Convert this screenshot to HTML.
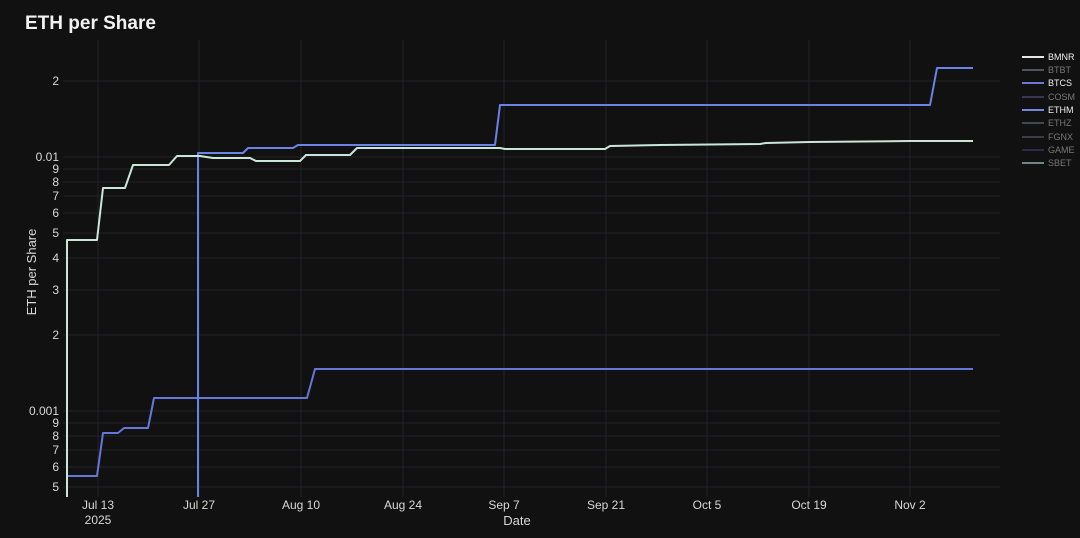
<!DOCTYPE html>
<html><head><style>
body{margin:0;background:#111112;}
svg{display:block;font-family:"Liberation Sans",sans-serif;}
</style></head><body>
<svg width="1080" height="538" viewBox="0 0 1080 538">
<rect width="1080" height="538" fill="#111112"/>
<text x="25" y="29" fill="#f2f2f2" font-size="19" font-weight="bold">ETH per Share</text>
<g stroke="#242426" stroke-width="1">
<line x1="63" x2="1000" y1="81" y2="81"/>
<line x1="63" x2="1000" y1="157" y2="157"/>
<line x1="63" x2="1000" y1="169" y2="169"/>
<line x1="63" x2="1000" y1="182" y2="182"/>
<line x1="63" x2="1000" y1="196" y2="196"/>
<line x1="63" x2="1000" y1="213" y2="213"/>
<line x1="63" x2="1000" y1="233" y2="233"/>
<line x1="63" x2="1000" y1="258" y2="258"/>
<line x1="63" x2="1000" y1="290" y2="290"/>
<line x1="63" x2="1000" y1="335" y2="335"/>
<line x1="63" x2="1000" y1="411" y2="411"/>
<line x1="63" x2="1000" y1="423" y2="423"/>
<line x1="63" x2="1000" y1="436" y2="436"/>
<line x1="63" x2="1000" y1="450" y2="450"/>
<line x1="63" x2="1000" y1="467" y2="467"/>
<line x1="63" x2="1000" y1="487" y2="487"/>
<line y1="40" y2="497" x1="98" x2="98"/>
<line y1="40" y2="497" x1="199" x2="199"/>
<line y1="40" y2="497" x1="301" x2="301"/>
<line y1="40" y2="497" x1="403" x2="403"/>
<line y1="40" y2="497" x1="504" x2="504"/>
<line y1="40" y2="497" x1="606" x2="606"/>
<line y1="40" y2="497" x1="707" x2="707"/>
<line y1="40" y2="497" x1="809" x2="809"/>
<line y1="40" y2="497" x1="910" x2="910"/>
</g>
<g fill="#d8d8d8" font-size="12" text-anchor="end">
<text x="59" y="85">2</text>
<text x="59" y="161">0.01</text>
<text x="59" y="173">9</text>
<text x="59" y="186">8</text>
<text x="59" y="200">7</text>
<text x="59" y="217">6</text>
<text x="59" y="237">5</text>
<text x="59" y="262">4</text>
<text x="59" y="294">3</text>
<text x="59" y="339">2</text>
<text x="59" y="415">0.001</text>
<text x="59" y="427">9</text>
<text x="59" y="440">8</text>
<text x="59" y="454">7</text>
<text x="59" y="471">6</text>
<text x="59" y="491">5</text>
</g>
<g fill="#d8d8d8" font-size="12" text-anchor="middle">
<text x="98" y="509">Jul 13</text>
<text x="98" y="524">2025</text>
<text x="199" y="509">Jul 27</text>
<text x="301" y="509">Aug 10</text>
<text x="403" y="509">Aug 24</text>
<text x="504" y="509">Sep 7</text>
<text x="606" y="509">Sep 21</text>
<text x="707" y="509">Oct 5</text>
<text x="809" y="509">Oct 19</text>
<text x="910" y="509">Nov 2</text>
<text x="517" y="525" font-size="13">Date</text>
<text transform="translate(36,272) rotate(-90)" font-size="13">ETH per Share</text>
</g>
<g fill="none" stroke-width="2" stroke-linejoin="round">
<polyline stroke="#6577d8" points="67,497 67,476 97,476 103,433 118,433 124,428 148,428 154,398 307,398 315,369 973,369"/>
<polyline stroke="#6b82e8" points="198,497 198,153 243,153 248,148 293,148 298,145 495,145 500,105 930,105 937,68 973,68"/>
<polyline stroke="#c9e6d9" points="67,497 67,240 97,240 103,188 125,188 133,165 169,165 177,156 200,156 213,158 250,158 256,161 300,161 306,155 350,155 357,148 500,148 505,149 605,149 610,146 660,145 760,144 766,143 810,142 910,141 973,141"/>
</g>
<g stroke-width="2">
<line x1="1022" x2="1044" y1="57" y2="57" stroke="#e6e6e6"/>
<line x1="1022" x2="1044" y1="70" y2="70" stroke="#4c5560"/>
<line x1="1022" x2="1044" y1="83" y2="83" stroke="#6a78d8"/>
<line x1="1022" x2="1044" y1="97" y2="97" stroke="#3a3550"/>
<line x1="1022" x2="1044" y1="110" y2="110" stroke="#7286e6"/>
<line x1="1022" x2="1044" y1="123" y2="123" stroke="#3e4a50"/>
<line x1="1022" x2="1044" y1="137" y2="137" stroke="#3a3e48"/>
<line x1="1022" x2="1044" y1="150" y2="150" stroke="#2a2a50"/>
<line x1="1022" x2="1044" y1="163" y2="163" stroke="#6a8a86"/>
</g>
<g font-size="9">
<text x="1048" y="60" fill="#f0f0f0">BMNR</text>
<text x="1048" y="73" fill="#777">BTBT</text>
<text x="1048" y="86" fill="#f0f0f0">BTCS</text>
<text x="1048" y="100" fill="#777">COSM</text>
<text x="1048" y="113" fill="#f0f0f0">ETHM</text>
<text x="1048" y="126" fill="#777">ETHZ</text>
<text x="1048" y="140" fill="#777">FGNX</text>
<text x="1048" y="153" fill="#777">GAME</text>
<text x="1048" y="166" fill="#777">SBET</text>
</g>
</svg>
</body></html>
